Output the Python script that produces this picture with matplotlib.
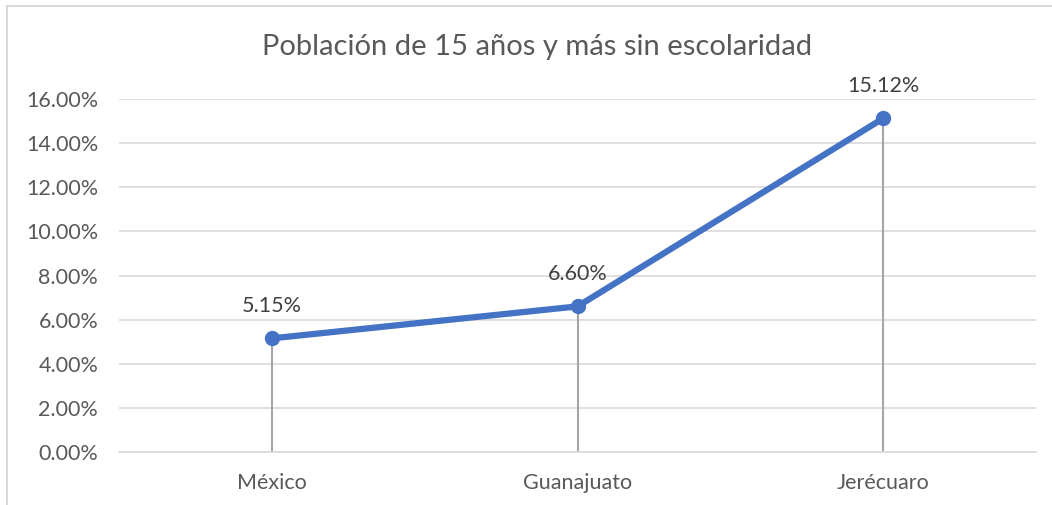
import matplotlib
matplotlib.use("Agg")
import matplotlib.pyplot as plt
from matplotlib.lines import Line2D
from matplotlib.ticker import FuncFormatter, MultipleLocator

categories = ["México", "Guanajuato", "Jerécuaro"]
values = [5.15, 6.60, 15.12]
title = "Población de 15 años y más sin escolaridad"

plt.rcParams['font.family'] = ['Lato', 'DejaVu Sans']

W, H = 1052, 505
fig = plt.figure(figsize=(W/100, H/100), dpi=100)
ax = fig.add_axes([119/W, 1 - 452/H, (1036-119)/W, (452-99)/H])

x = list(range(len(categories)))
ax.set_xlim(-0.5, len(categories) - 0.5)
ax.set_ylim(0, 16)
ax.yaxis.set_major_locator(MultipleLocator(2))
ax.yaxis.set_major_formatter(FuncFormatter(lambda v, p: f"{v:.2f}%"))
ax.grid(axis='y', color='#d9d9d9', linewidth=1.2)
ax.set_axisbelow(True)
for s in ['top', 'right', 'left']:
    ax.spines[s].set_visible(False)
ax.spines['bottom'].set_color('#d9d9d9')
ax.spines['bottom'].set_linewidth(1.2)
ax.tick_params(axis='both', length=0, colors='#595959', labelsize=15.5)
ax.tick_params(axis='y', pad=15)
ax.tick_params(axis='x', pad=15)
ax.set_xticks(x)
ax.set_xticklabels(categories)

ax.vlines(x, 0, values, color='#a5a5a5', linewidth=1.5, zorder=2)
ax.plot(x, values, color='#4472c4', linewidth=4.5, marker='o', markersize=10,
        solid_capstyle='round', zorder=3)
for xi, v in zip(x, values):
    ax.annotate(f"{v:.2f}%", (xi, v), xytext=(0, 23), textcoords='offset points',
                ha='center', va='center', fontsize=15.5, color='#404040')

fig.text(537/W, 1 - 47/H, title, ha='center', va='center', fontsize=21, color='#595959')

# chart border
fig.add_artist(Line2D([7/W, 7/W], [0, 1 - 6/H], transform=fig.transFigure, color='#d9d9d9', linewidth=1.5))
fig.add_artist(Line2D([7/W, 1], [1 - 6/H, 1 - 6/H], transform=fig.transFigure, color='#d9d9d9', linewidth=1.5))

fig.savefig("out.png", dpi=100)
